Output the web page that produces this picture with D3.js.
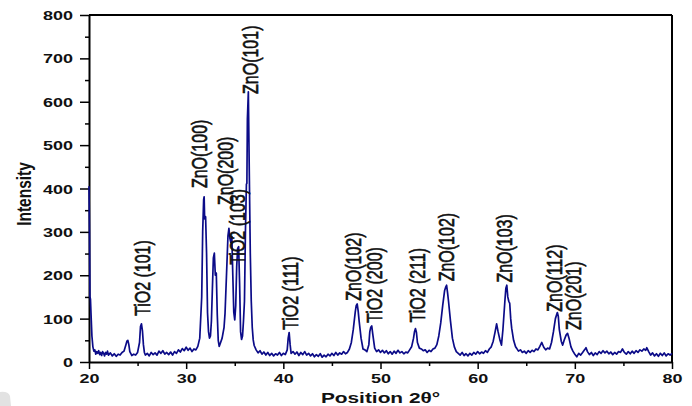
<!DOCTYPE html>
<html>
<head>
<meta charset="utf-8">
<script src="https://cdn.jsdelivr.net/npm/d3@7"></script>
<style>
body { margin: 0; background: #fff; }
svg { display: block; }
</style>
</head>
<body>
<div id="chart"></div>
<script>
// XRD scan: [2theta, intensity]
var scan = [
[20.0,405],[20.05,300],[20.1,150],[20.15,145],[20.2,115],[20.3,60],[20.4,35],[20.5,25],[20.6,28],[20.7,18],
[20.8,24],[20.9,20],[21.0,26],[21.1,17],[21.2,22],[21.3,15],[21.4,24],[21.5,20],[21.6,14],[21.7,22],
[21.8,18],[21.9,25],[22.0,16],[22.2,21],[22.4,14],[22.6,19],[22.8,13],[23.0,18],[23.2,16],[23.4,22],
[23.6,25],[23.8,40],[23.9,48],[24.0,50],[24.1,40],[24.2,24],[24.4,15],[24.6,18],[24.8,16],[25.0,22],
[25.2,45],[25.3,82],[25.4,88],[25.5,72],[25.6,40],[25.7,22],[25.8,16],[26.0,20],[26.2,14],[26.4,22],
[26.6,17],[26.8,21],[27.0,16],[27.2,25],[27.4,20],[27.6,26],[27.8,18],[28.0,22],[28.2,17],[28.4,23],
[28.6,16],[28.8,24],[29.0,20],[29.2,28],[29.4,23],[29.6,31],[29.8,26],[30.0,34],[30.2,27],[30.4,32],
[30.6,24],[30.8,30],[31.0,28],[31.2,36],[31.4,55],[31.6,150],[31.7,300],[31.8,375],[31.85,381],[31.9,330],
[32.0,335],[32.1,250],[32.2,113],[32.3,70],[32.4,55],[32.5,60],[32.6,95],[32.7,170],[32.8,240],[32.9,251],
[33.0,200],[33.1,205],[33.2,110],[33.3,50],[33.4,36],[33.5,42],[33.7,55],[33.9,80],[34.0,112],[34.2,230],
[34.3,290],[34.4,308],[34.5,285],[34.6,275],[34.7,289],[34.8,200],[34.9,115],[35.0,97],[35.1,130],[35.2,220],
[35.3,262],[35.4,266],[35.5,180],[35.6,70],[35.7,52],[35.8,60],[35.9,95],[36.0,140],[36.1,300],[36.2,410],
[36.25,412],[36.3,560],[36.4,623],[36.5,430],[36.6,250],[36.7,140],[36.8,80],[36.9,51],[37.0,38],[37.2,28],
[37.4,21],[37.6,26],[37.8,18],[38.0,23],[38.2,16],[38.4,22],[38.6,15],[38.8,20],[39.0,14],[39.2,19],
[39.4,16],[39.6,22],[39.8,15],[40.0,20],[40.2,17],[40.4,28],[40.5,55],[40.6,68],[40.7,40],[40.8,20],
[41.0,24],[41.2,18],[41.4,23],[41.6,15],[41.8,22],[42.0,17],[42.2,24],[42.4,16],[42.6,20],[42.8,14],
[43.0,19],[43.2,12],[43.4,17],[43.6,13],[43.8,19],[44.0,11],[44.2,16],[44.4,12],[44.6,18],[44.8,14],
[45.0,20],[45.2,15],[45.4,22],[45.6,16],[45.8,21],[46.0,18],[46.2,24],[46.4,19],[46.6,22],[46.8,30],
[47.0,45],[47.2,75],[47.4,115],[47.5,130],[47.6,134],[47.7,118],[47.8,95],[48.0,55],[48.2,30],[48.4,28],
[48.6,24],[48.8,40],[48.9,70],[49.0,80],[49.1,83],[49.2,65],[49.4,32],[49.6,24],[49.8,28],[50.0,22],
[50.2,27],[50.4,21],[50.6,26],[50.8,19],[51.0,24],[51.2,18],[51.4,25],[51.6,20],[51.8,27],[52.0,21],
[52.2,24],[52.4,19],[52.6,23],[52.8,21],[53.0,28],[53.2,35],[53.4,55],[53.5,70],[53.6,77],[53.7,68],
[53.8,45],[54.0,32],[54.2,30],[54.4,26],[54.6,28],[54.8,22],[55.0,27],[55.2,24],[55.4,30],[55.6,32],
[55.8,40],[56.0,60],[56.2,90],[56.4,130],[56.6,165],[56.7,172],[56.8,177],[56.9,160],[57.0,140],[57.2,95],
[57.4,55],[57.6,35],[57.8,24],[58.0,20],[58.2,16],[58.4,22],[58.6,15],[58.8,19],[59.0,14],[59.2,20],
[59.4,16],[59.6,22],[59.8,18],[60.0,24],[60.2,19],[60.4,23],[60.6,20],[60.8,26],[61.0,22],[61.2,30],
[61.4,35],[61.6,48],[61.8,70],[61.95,88],[62.1,70],[62.3,50],[62.45,39],[62.6,75],[62.8,140],[62.9,170],
[63.0,177],[63.1,150],[63.2,140],[63.3,135],[63.4,100],[63.5,78],[63.7,50],[63.9,35],[64.0,32],[64.2,25],
[64.4,28],[64.6,22],[64.8,25],[65.0,20],[65.2,26],[65.4,22],[65.6,27],[65.8,24],[66.0,30],[66.2,28],
[66.4,36],[66.6,45],[66.8,34],[67.0,28],[67.2,32],[67.4,30],[67.6,45],[67.8,70],[68.0,100],[68.2,114],
[68.3,105],[68.4,75],[68.6,48],[68.75,39],[68.9,50],[69.1,62],[69.25,66],[69.4,55],[69.6,35],[69.8,25],
[70.0,18],[70.2,12],[70.4,20],[70.6,16],[70.8,22],[71.0,28],[71.15,33],[71.3,24],[71.5,17],[71.7,22],
[71.9,15],[72.1,21],[72.3,17],[72.5,24],[72.7,20],[72.9,26],[73.1,21],[73.3,25],[73.5,19],[73.7,23],
[73.9,17],[74.1,22],[74.3,18],[74.5,24],[74.7,22],[74.9,30],[75.1,22],[75.3,18],[75.5,24],[75.7,19],
[75.9,25],[76.1,20],[76.3,26],[76.5,22],[76.7,28],[76.9,25],[77.1,30],[77.3,27],[77.4,33],[77.6,24],
[77.8,16],[78.0,21],[78.2,14],[78.4,19],[78.6,13],[78.8,20],[79.0,15],[79.2,21],[79.4,14],[79.6,19],
[79.8,16],[80.0,20]
];

// peak labels: text, 2theta of label centre, intensity where the text starts
var peakNames = ["TiO2 (101)","ZnO(100)","ZnO(200)","TiO2 (103)","ZnO(101)","TiO2 (111)","ZnO(102)","TiO2 (200)","TiO2 (211)","ZnO(102)","ZnO(103)","ZnO(112)","ZnO(201)"];
var peakAngles = [25.62, 31.45, 34.08, 35.41, 36.69, 40.86, 47.31, 49.49, 53.86, 56.90, 62.86, 67.96, 69.98];
var peakStarts = [106, 401, 362, 224, 618, 74, 141, 90, 91, 186, 183, 116, 74];

var xTicks = [20, 30, 40, 50, 60, 70, 80];
var xMinor = [25, 35, 45, 55, 65, 75];
var yTicks = [0, 100, 200, 300, 400, 500, 600, 700, 800];
var yMinor = [50, 150, 250, 350, 450, 550, 650, 750];

var W = 692, H = 406;
var margin = {top: 15, right: 20, bottom: 44, left: 89};
var width = W - margin.left - margin.right;
var height = H - margin.top - margin.bottom;
var lineColor = "#0b0b88";

var svg = d3.select("#chart").append("svg")
	.attr("width", W)
	.attr("height", H);

// little grey smudge in the bottom left corner of the original
svg.append("path")
	.attr("d", "M0,392 Q8,391 10,396 L11,406 L0,406 Z")
	.attr("fill", "#e2e2e2");

var g = svg.append("g")
	.attr("transform", "translate(" + margin.left + "," + margin.top + ")");

var x = d3.scaleLinear().domain([20, 80]).range([0, width]);
var y = d3.scaleLinear().domain([0, 800]).range([height, 0]);

// frame top and right
g.append("line").attr("x1", 0).attr("x2", width).attr("y1", 0).attr("y2", 0)
	.attr("stroke", "#000").attr("stroke-width", 2);
g.append("line").attr("x1", width).attr("x2", width).attr("y1", 0).attr("y2", height)
	.attr("stroke", "#000").attr("stroke-width", 2);

// minor ticks
g.append("g").attr("transform", "translate(0," + height + ")")
	.call(d3.axisBottom(x).tickValues(xMinor).tickSize(4).tickFormat(""))
	.call(s => s.select(".domain").remove())
	.selectAll("line").attr("stroke-width", 1.5);
g.append("g")
	.call(d3.axisLeft(y).tickValues(yMinor).tickSize(4).tickFormat(""))
	.call(s => s.select(".domain").remove())
	.selectAll("line").attr("stroke-width", 1.5);

// x axis
var xAxis = g.append("g")
	.attr("transform", "translate(0," + height + ")")
	.call(d3.axisBottom(x).tickValues(xTicks).tickSize(7).tickSizeOuter(0));
xAxis.select(".domain").attr("stroke-width", 2);
xAxis.selectAll(".tick line").attr("stroke-width", 1.5);
xAxis.selectAll("text")
	.attr("y", 0).attr("dy", null)
	.attr("transform", "translate(0,21) scale(1.5,1)")
	.attr("text-anchor", "middle")
	.style("font-family", "'Liberation Sans', Arial, sans-serif")
	.style("font-weight", "bold")
	.style("font-size", "12px")
	.attr("fill", "#111");

// y axis
var yAxis = g.append("g")
	.call(d3.axisLeft(y).tickValues(yTicks).tickSize(9).tickSizeOuter(0));
yAxis.select(".domain").attr("stroke-width", 2);
yAxis.selectAll(".tick line").attr("stroke-width", 1.5);
yAxis.selectAll("text")
	.attr("x", 0).attr("dy", null)
	.attr("transform", "translate(-16,4.5) scale(1.5,1)")
	.attr("text-anchor", "end")
	.style("font-family", "'Liberation Sans', Arial, sans-serif")
	.style("font-weight", "bold")
	.style("font-size", "12px")
	.attr("fill", "#111");

// the scan
var line = d3.line()
	.x(d => x(d[0]))
	.y(d => y(d[1]));

g.append("path")
	.datum(scan)
	.attr("fill", "none")
	.attr("stroke", lineColor)
	.attr("stroke-width", 1.7)
	.attr("stroke-linejoin", "round")
	.attr("d", line);

// peak labels, vertical
g.selectAll(".peakLabel")
	.data(peakNames)
	.enter().append("text")
	.attr("class", "peakLabel")
	.attr("transform", (d, i) => "translate(" + x(peakAngles[i]) + "," + y(peakStarts[i]) + ") scale(1.4,1) rotate(-90)")
	.attr("dy", "0.3em")
	.style("font-family", "'Liberation Sans', Arial, sans-serif")
	.style("font-size", "16px")
	.attr("fill", "#111")
	.attr("stroke", "#111")
	.attr("stroke-width", 0.45)
	.text(d => d);

// axis titles
svg.append("text")
	.attr("transform", "translate(" + (margin.left + width / 2) + ",402.5) scale(1.39,1)")
	.attr("text-anchor", "middle")
	.style("font-family", "'Liberation Sans', Arial, sans-serif")
	.style("font-weight", "bold")
	.style("font-size", "15px")
	.attr("fill", "#111")
	.text("Position 2\u03b8\u00b0");

svg.append("text")
	.attr("transform", "translate(31,194) scale(1.3,1) rotate(-90)")
	.attr("text-anchor", "middle")
	.style("font-family", "'Liberation Sans', Arial, sans-serif")
	.style("font-weight", "bold")
	.style("font-size", "15.5px")
	.attr("fill", "#111")
	.text("Intensity");
</script>
</body>
</html>
